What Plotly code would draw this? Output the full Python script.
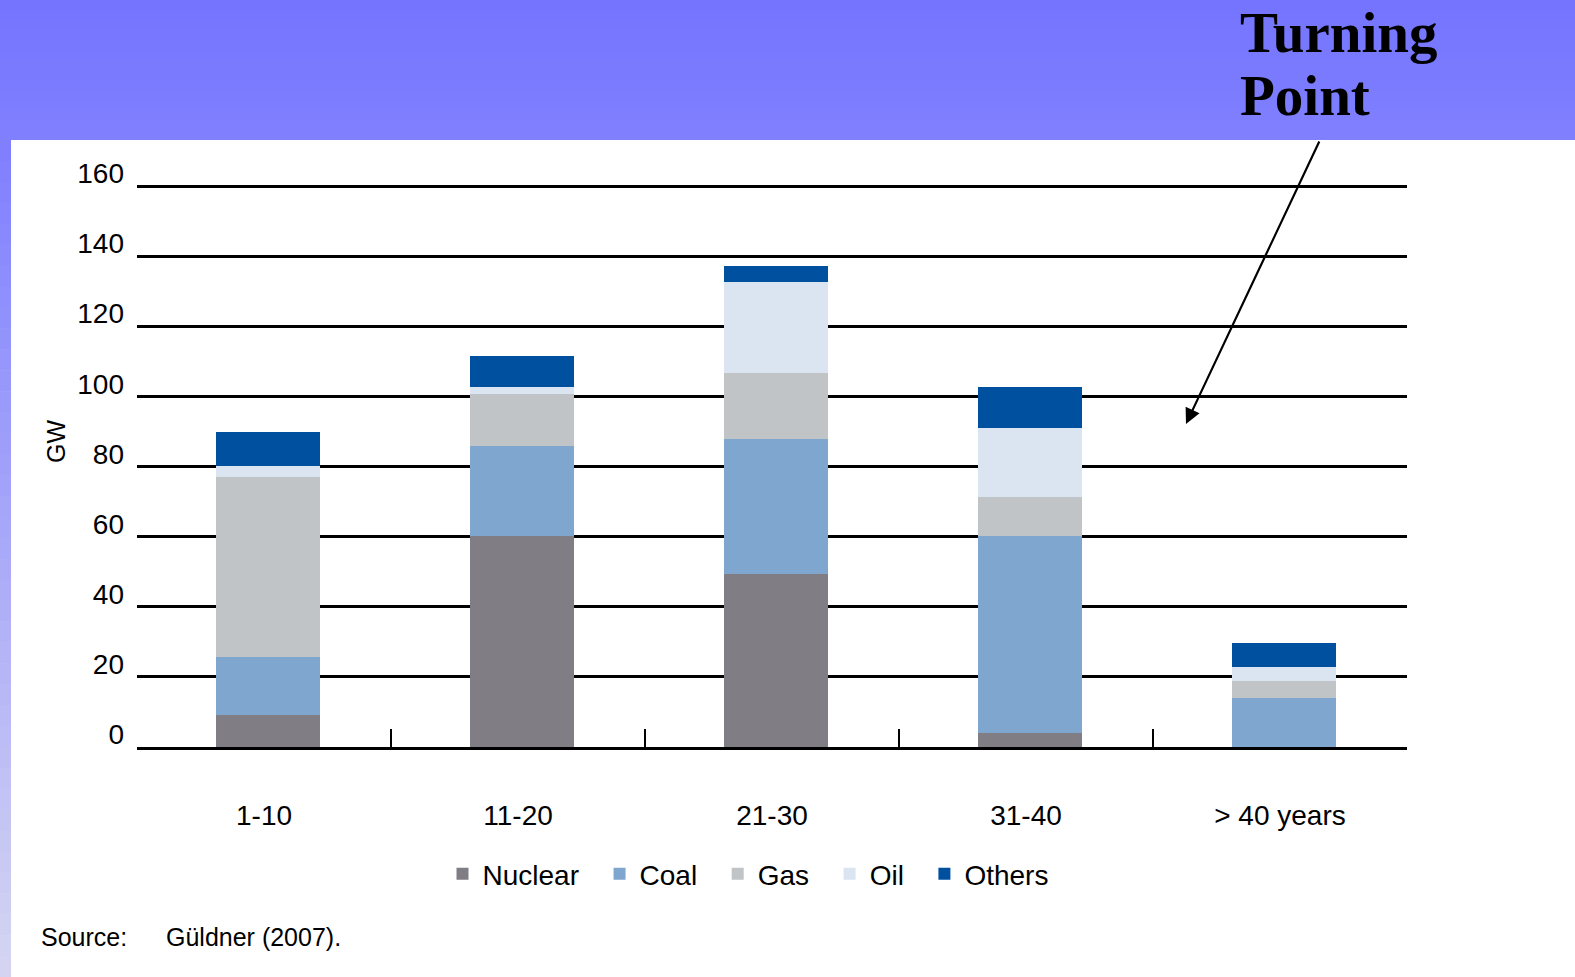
import plotly.graph_objects as go

# ---------------- data ----------------
categories = ["1-10", "11-20", "21-30", "31-40", "> 40 years"]
nuclear = [9.0, 60.3, 49.4, 4.0, 0.0]
coal = [16.7, 25.7, 38.6, 56.3, 14.0]
gas = [51.4, 14.9, 18.9, 11.0, 4.9]
oil = [3.2, 2.0, 25.7, 19.8, 4.0]
others = [9.7, 8.8, 4.8, 11.8, 6.8]

series_names = ["Nuclear", "Coal", "Gas", "Oil", "Others"]
series_values = [nuclear, coal, gas, oil, others]
series_colors = ["#807E84", "#7FA6CF", "#C1C4C7", "#DAE5F1", "#0050A0"]

y_ticks = [0, 20, 40, 60, 80, 100, 120, 140, 160]
y_max = 161

# ---------------- layout geometry (pixels) ----------------
W, H = 1575, 977
L, R, T, B = 137, 168, 183, 230
PW, PH = W - L - R, H - T - B


def px(x):
    return (x - L) / PW


def py(y):
    return (H - B - y) / PH


FONT = "Liberation Sans Narrow, Arial Narrow, Liberation Sans, Arial, sans-serif"
PAD = "\u00a0\u00a0"  # extra spacing after each legend entry

fig = go.Figure()
for name, vals, col in zip(series_names, series_values, series_colors):
    fig.add_trace(go.Bar(name=name + PAD, x=categories, y=vals,
                         marker=dict(color=col, line=dict(width=0)),
                         width=0.41, offset=-0.19))

# ---------------- background decoration ----------------
shapes = []


def lerp(c1, c2, t):
    return "rgb(%d,%d,%d)" % tuple(round(a + (b - a) * t) for a, b in zip(c1, c2))


# top band gradient
n = 14
for i in range(n):
    y0 = i * 140 / n
    y1 = (i + 1) * 140 / n + 0.6
    shapes.append(dict(type="rect", xref="paper", yref="paper", layer="below",
                       x0=px(0), x1=px(W), y0=py(min(y1, 140)), y1=py(y0),
                       fillcolor=lerp((116, 116, 255), (128, 128, 255), i / (n - 1)),
                       line=dict(width=0)))
# left strip gradient
n = 40
for i in range(n):
    y0 = 140 + i * (H - 140) / n
    y1 = 140 + (i + 1) * (H - 140) / n + 0.6
    shapes.append(dict(type="rect", xref="paper", yref="paper", layer="below",
                       x0=px(0), x1=px(11), y0=py(min(y1, H)), y1=py(y0),
                       fillcolor=lerp((128, 128, 255), (212, 212, 242), i / (n - 1)),
                       line=dict(width=0)))

annotations = [
    dict(text="GW", xref="paper", yref="paper", x=px(56), y=py(441),
         xanchor="center", yanchor="middle",
         showarrow=False, textangle=-90, font=dict(family=FONT, size=25, color="black")),
    dict(text="Source:", xref="paper", yref="paper", x=px(39), y=py(937),
         xanchor="left", yanchor="middle", showarrow=False,
         font=dict(family=FONT, size=25, color="black")),
    dict(text="Güldner (2007).", xref="paper", yref="paper", x=px(164), y=py(937),
         xanchor="left", yanchor="middle", showarrow=False,
         font=dict(family=FONT, size=25, color="black")),
    dict(text="<b>Turning</b>", xref="paper", yref="paper", x=px(1238), y=py(32),
         xanchor="left", yanchor="middle", showarrow=False,
         font=dict(family="Liberation Serif, serif", size=57, color="black")),
    dict(text="<b>Point</b>", xref="paper", yref="paper", x=px(1238), y=py(95),
         xanchor="left", yanchor="middle", showarrow=False,
         font=dict(family="Liberation Serif, serif", size=57, color="black")),
    dict(text="", xref="paper", yref="paper", x=px(1186), y=py(424),
         ax=1320 - 1186, ay=140 - 424, showarrow=True, arrowhead=2,
         arrowsize=1.4, arrowwidth=2.2, arrowcolor="black"),
]

fig.update_layout(
    width=W, height=H,
    margin=dict(l=L, r=R, t=T, b=B, pad=0),
    paper_bgcolor="white", plot_bgcolor="rgba(0,0,0,0)",
    barmode="stack", bargap=0.59,
    shapes=shapes, annotations=annotations,
    showlegend=True,
    legend=dict(orientation="h", x=px(756), xanchor="center", y=py(874), yanchor="middle",
                traceorder="normal", font=dict(family=FONT, size=28, color="black"),
                bgcolor="rgba(0,0,0,0)", itemwidth=30),
    xaxis=dict(type="category", range=[-0.5, 4.5], tickson="boundaries",
               ticks="inside", ticklen=18, tickwidth=2, tickcolor="black",
               showline=True, linecolor="black", linewidth=3, showgrid=False,
               tickfont=dict(family=FONT, size=28, color="black"),
               ticklabelstandoff=41),
    yaxis=dict(range=[0, y_max], tickvals=y_ticks, showgrid=True, gridcolor="black",
               gridwidth=3, zeroline=False, showline=False, ticks="",
               ticklabelposition="outside", ticklabelshift=-13,
               tickfont=dict(family=FONT, size=28, color="black"),
               ticklabelstandoff=12),
)

fig.write_html("out.html")
